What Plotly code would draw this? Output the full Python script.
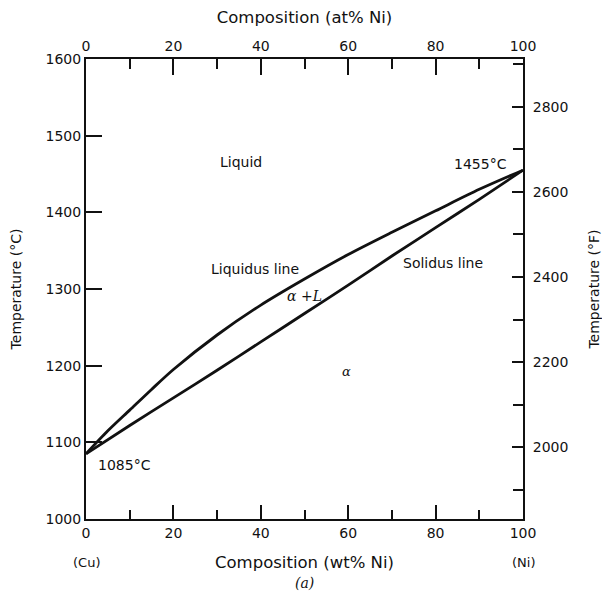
import plotly.graph_objects as go

# Data (wt% Ni, temperature in °C)
wt_ni_liq = [0, 5, 10, 15, 20, 30, 40, 50, 60, 70, 80, 90, 100]
liquidus_c = [1085, 1115, 1142, 1169, 1195, 1240, 1279, 1313, 1345, 1374, 1402, 1430, 1455]
wt_ni_sol = [0, 10, 20, 30, 40, 50, 60, 70, 80, 90, 100]
solidus_c = [1085, 1122, 1158, 1194, 1231, 1268, 1305, 1343, 1380, 1417, 1455]

temp_c_range = [1000, 1600]
temp_c_ticks = [1000, 1100, 1200, 1300, 1400, 1500, 1600]
temp_f_ticks = [2000, 2200, 2400, 2600, 2800]
comp_ticks = [0, 20, 40, 60, 80, 100]

def c_to_f(c):
    return c * 9 / 5 + 32

FONT = "DejaVu Sans, sans-serif"
SERIF = "DejaVu Serif, serif"
INK = "#111111"

fig = go.Figure()
for xs, series in ((wt_ni_liq, liquidus_c), (wt_ni_sol, solidus_c)):
    fig.add_trace(go.Scatter(x=xs, y=series, mode="lines",
                             line=dict(color=INK, width=2.8, shape="spline", smoothing=0.8),
                             showlegend=False, hoverinfo="skip"))
# invisible trace to activate the secondary (top / right) axes
fig.add_trace(go.Scatter(x=wt_ni_sol, y=[c_to_f(v) for v in solidus_c], xaxis="x2", yaxis="y2", mode="lines",
                         line=dict(width=0), opacity=0, showlegend=False, hoverinfo="skip"))

tickfont = dict(family=FONT, size=14, color=INK)
comp_title_font = dict(family=FONT, size=16.5, color=INK)
temp_title_font = dict(family=FONT, size=14, color=INK)

common = dict(showline=True, linecolor=INK, linewidth=2, showgrid=False, zeroline=False,
              tickcolor=INK, tickwidth=1.6, tickfont=tickfont, automargin=False)

fig.update_layout(
    width=594, height=585,
    margin=dict(l=78, r=79, t=51, b=74),
    plot_bgcolor="white", paper_bgcolor="white",
    showlegend=False,
    xaxis=dict(range=[0, 100], tickvals=comp_ticks, ticks="inside", ticklen=14,
               minor=dict(dtick=10, tick0=0, ticks="inside", ticklen=9, tickwidth=1.6, tickcolor=INK),
               title=dict(text="Composition (wt% Ni)", font=comp_title_font, standoff=17), **common),
    xaxis2=dict(range=[0, 100], overlaying="x", side="top", tickvals=comp_ticks, ticks="inside", ticklen=16,
                minor=dict(dtick=10, tick0=0, ticks="inside", ticklen=10, tickwidth=1.6, tickcolor=INK),
                title=dict(text="Composition (at% Ni)", font=comp_title_font, standoff=18), **common),
    yaxis=dict(range=temp_c_range, tickvals=temp_c_ticks, ticks="inside", ticklen=16,
               title=dict(text="Temperature (°C)", font=temp_title_font, standoff=22), **common),
    yaxis2=dict(range=[c_to_f(temp_c_range[0]), c_to_f(temp_c_range[1])], overlaying="y", side="right",
                tickvals=temp_f_ticks, ticks="inside", ticklen=11, ticklabelstandoff=5,
                minor=dict(dtick=100, tick0=1900, ticks="inside", ticklen=10, tickwidth=1.6, tickcolor=INK),
                title=dict(text="Temperature (°F)", font=temp_title_font, standoff=25), **common),
)

ann_font = dict(family=FONT, size=14, color=INK)
labels = [
    ("Liquid", 35.5, 1466),
    ("1455°C", 90.2, 1463),
    ("Liquidus line", 38.7, 1326),
    ("Solidus line", 81.7, 1334),
    ("1085°C", 8.7, 1071),
]
for text, x, y in labels:
    fig.add_annotation(x=x, y=y, xref="x", yref="y", text=text, showarrow=False, font=ann_font)

fig.add_annotation(x=50.1, y=1291, xref="x", yref="y", text="<i>α</i> +<i>L</i>", showarrow=False,
                   font=dict(family=SERIF, size=14, color=INK))
fig.add_annotation(x=59.5, y=1192, xref="x", yref="y", text="<i>α</i>", showarrow=False,
                   font=dict(family=SERIF, size=13, color=INK))

# element labels and panel caption below the axis
fig.add_annotation(x=0, y=-0.095, xref="x", yref="paper", yanchor="middle", text="(Cu)", showarrow=False,
                   font=dict(family=FONT, size=13, color=INK))
fig.add_annotation(x=100, y=-0.095, xref="x", yref="paper", yanchor="middle", text="(Ni)", showarrow=False,
                   font=dict(family=FONT, size=13, color=INK))
fig.add_annotation(x=50, y=-0.139, xref="x", yref="paper", yanchor="middle", text="<i>(a)</i>", showarrow=False,
                   font=dict(family=SERIF, size=14, color=INK))

fig.write_html("out.html")
